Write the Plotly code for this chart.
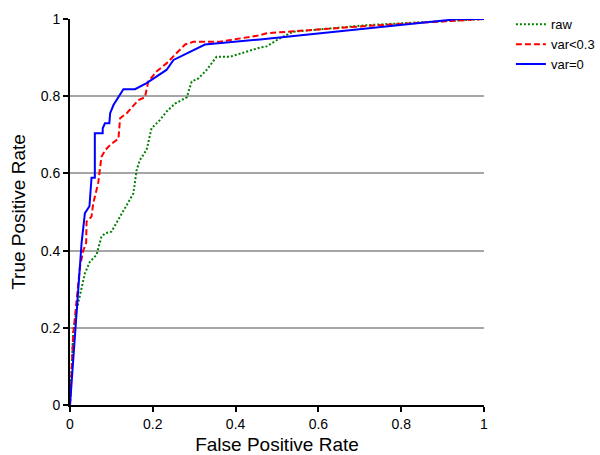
import plotly.graph_objects as go

raw_fpr = [0, 0.008, 0.016, 0.028, 0.036, 0.048, 0.064, 0.076, 0.085, 0.1, 0.121, 0.133, 0.153, 0.161, 0.169, 0.185, 0.197, 0.217, 0.233, 0.254, 0.282, 0.294, 0.31, 0.33, 0.354, 0.386, 0.427, 0.459, 0.475, 0.507, 0.539, 0.716, 1.0]
raw_tpr = [0, 0.194, 0.246, 0.306, 0.341, 0.371, 0.389, 0.436, 0.445, 0.449, 0.488, 0.514, 0.548, 0.609, 0.635, 0.661, 0.717, 0.738, 0.76, 0.781, 0.797, 0.838, 0.846, 0.868, 0.902, 0.902, 0.915, 0.926, 0.929, 0.95, 0.967, 0.984, 1.0]

v03_fpr = [0, 0.004, 0.008, 0.016, 0.024, 0.032, 0.039, 0.04, 0.052, 0.056, 0.068, 0.076, 0.085, 0.097, 0.117, 0.121, 0.137, 0.165, 0.181, 0.189, 0.209, 0.233, 0.254, 0.278, 0.298, 0.362, 0.459, 0.475, 0.716, 1.0]
v03_tpr = [0, 0.1, 0.185, 0.272, 0.358, 0.40, 0.42, 0.475, 0.488, 0.522, 0.574, 0.643, 0.66, 0.674, 0.69, 0.743, 0.756, 0.79, 0.797, 0.838, 0.864, 0.885, 0.909, 0.934, 0.941, 0.941, 0.958, 0.963, 0.982, 1.0]

v0_fpr = [0, 0.028, 0.036, 0.047, 0.052, 0.06, 0.06, 0.079, 0.079, 0.0845, 0.095, 0.097, 0.105, 0.117, 0.129, 0.157, 0.185, 0.233, 0.25, 0.326, 0.459, 0.938, 1.0]
v0_tpr = [0, 0.42, 0.497, 0.515, 0.589, 0.589, 0.704, 0.704, 0.717, 0.73, 0.73, 0.756, 0.777, 0.797, 0.818, 0.818, 0.834, 0.868, 0.894, 0.934, 0.947, 1.0, 1.0]

tick_vals = [0, 0.2, 0.4, 0.6, 0.8, 1]
tick_text = ["0", "0.2", "0.4", "0.6", "0.8", "1"]

fig = go.Figure()
fig.add_trace(go.Scatter(x=raw_fpr, y=raw_tpr, mode="lines", name="raw",
                         line=dict(color="#008000", width=2, dash="2px,2px")))
fig.add_trace(go.Scatter(x=v03_fpr, y=v03_tpr, mode="lines", name="var<0.3",
                         line=dict(color="#ff0000", width=2, dash="6px,3px")))
fig.add_trace(go.Scatter(x=v0_fpr, y=v0_tpr, mode="lines", name="var=0",
                         line=dict(color="#0000ff", width=2)))

fig.update_layout(
    width=600, height=455,
    margin=dict(l=70, r=116, t=19, b=50, autoexpand=False),
    paper_bgcolor="white", plot_bgcolor="white",
    font=dict(family="Liberation Sans, Arial, sans-serif", color="black", size=14),
    legend=dict(x=1.065, y=1.025, xanchor="left", yanchor="top",
                font=dict(size=13), bgcolor="rgba(0,0,0,0)",
                tracegroupgap=0),
    xaxis=dict(range=[0, 1], tickvals=tick_vals, ticktext=tick_text,
               showgrid=False, zeroline=False, showline=True,
               linecolor="black", linewidth=2, ticks="outside",
               ticklen=5, tickwidth=2, tickcolor="black", automargin=False,
               title=dict(text="False Positive Rate", font=dict(size=19), standoff=13)),
    yaxis=dict(range=[0, 1], tickvals=tick_vals, ticktext=tick_text,
               showgrid=True, gridcolor="#a6a6a6", gridwidth=2, zeroline=False,
               showline=True, linecolor="black", linewidth=2, ticks="outside",
               ticklen=5, tickwidth=2, tickcolor="black", automargin=False,
               title=dict(text="True Positive Rate", font=dict(size=19), standoff=10)),
    showlegend=True,
)

fig.write_html("out.html")
